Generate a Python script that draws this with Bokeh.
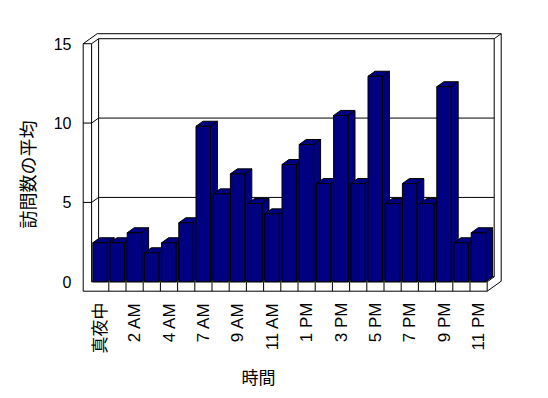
import math
from bokeh.plotting import figure
from bokeh.models import Range1d, LinearAxis, FixedTicker, Title
from bokeh.embed import file_html
from bokeh.resources import INLINE

# ---------------- data ----------------
hours = ["真夜中", "1 AM", "2 AM", "3 AM", "4 AM", "5 AM", "7 AM", "8 AM", "9 AM",
         "10 AM", "11 AM", "12 PM", "1 PM", "2 PM", "3 PM", "4 PM", "5 PM", "6 PM",
         "7 PM", "8 PM", "9 PM", "10 PM", "11 PM"]
visits = [2.46, 2.46, 3.09, 1.83, 2.46, 3.72, 9.80, 5.54, 6.80, 4.93, 4.28, 7.39,
          8.65, 6.19, 10.48, 6.19, 12.95, 4.93, 6.19, 4.93, 12.29, 2.46, 3.09]
y_ticks = [0, 5, 10, 15]
y_grid = [5, 10]
y_max = 15
x_title = "時間"
y_title = "訪問数の平均"

# ---------------- geometry (pixels) ----------------
CAT_PX = 17.2          # px per category
VAL_PX = 15.873        # px per value unit
ORIGIN_X = 92.1        # page px of category 0 left edge
ORIGIN_Y = 282.3       # page px of value 0
DEPTH_PX = (7.0, 5.0)  # 3-D depth offset
WALL_PX = 8.4          # left wall thickness
FLOOR_PX = 9.4         # floor thickness
BAR_OFF_PX = 1.2
BAR_W_PX = 14.4
FRAME = dict(left=81, right=504, top=32, bottom=294)
OFF = 1                # observed page offset of the canvas

def dxu(px):
    return (px - ORIGIN_X) / CAT_PX

def dyu(py):
    return (ORIGIN_Y - py) / VAL_PX

N = len(visits)
dx = DEPTH_PX[0] / CAT_PX
dy = DEPTH_PX[1] / VAL_PX
wall = WALL_PX / CAT_PX
floor = FLOOR_PX / VAL_PX
off = BAR_OFF_PX / CAT_PX
bw = BAR_W_PX / CAT_PX

FONT_L = "'Liberation Sans', 'Noto Sans CJK JP'"
FONT_J = "'Noto Sans CJK JP'"

p = figure(frame_width=FRAME["right"] - FRAME["left"],
           frame_height=FRAME["bottom"] - FRAME["top"],
           output_backend="svg", toolbar_location=None,
           x_range=Range1d(dxu(FRAME["left"]), dxu(FRAME["right"])),
           y_range=Range1d(dyu(FRAME["bottom"]), dyu(FRAME["top"])),
           x_axis_type=None, y_axis_type=None,
           min_border_left=FRAME["left"] - OFF, min_border_top=FRAME["top"] - OFF,
           min_border_right=20, min_border_bottom=20)
p.outline_line_color = None
p.background_fill_color = "white"
p.border_fill_color = "white"

# ---------------- frame (walls + floor) ----------------
ox = [-wall, N, N + 2 * dx, N + 2 * dx, -wall + 2 * dx, -wall]
oy = [-floor, -floor, -floor + 2 * dy, y_max + 2 * dy, y_max + 2 * dy, y_max]
p.patch(ox, oy, fill_color="white", line_color="black", line_width=1)

xs, ys = [], []
def seg(x0, y0, x1, y1):
    xs.append([x0, x1]); ys.append([y0, y1])

seg(-wall, y_max, 0, y_max)
seg(0, 0, 0, y_max)
seg(0, y_max, dx, y_max + dy)
seg(dx, y_max + dy, N + dx, y_max + dy)
seg(N + dx, y_max + dy, N + 2 * dx, y_max + 2 * dy)
seg(N + dx, dy, N + dx, y_max + dy)
seg(dx, dy, dx, y_max + dy)
seg(dx, dy, N + dx, dy)
seg(0, 0, dx, dy)
seg(0, 0, N, 0)
seg(N, 0, N + dx, dy)
seg(N, -floor, N, 0)
for v in y_grid:
    seg(-wall, v, 0, v)
    seg(0, v, dx, v + dy)
    seg(dx, v + dy, N + dx, v + dy)
for i in range(1, N):
    seg(i, -floor, i, 0)
p.multi_line(xs, ys, line_color="black", line_width=1)

# ---------------- 3-D bars ----------------
bx, by = [], []
for i, v in enumerate(visits):
    x0 = i + off
    x1 = x0 + bw
    bx.append([x1, x1 + dx, x1 + dx, x1]); by.append([0, dy, v + dy, v])          # side
    bx.append([x0, x1, x1 + dx, x0 + dx]); by.append([v, v, v + dy, v + dy])      # top
    bx.append([x0, x1, x1, x0]); by.append([0, 0, v, v])                          # front
p.patches(bx, by, fill_color="#000080", line_color="black", line_width=1)

# ---------------- axes ----------------
yaxis = LinearAxis(ticker=FixedTicker(ticks=y_ticks), axis_line_color=None,
                   major_tick_line_color=None, minor_tick_line_color=None,
                   major_tick_in=0, major_tick_out=0, major_label_standoff=9,
                   major_label_text_font=FONT_L, major_label_text_font_size="16px",
                   major_label_text_color="black")
p.add_layout(yaxis, "left")

x_ticks = [i + 0.5 for i in range(0, N, 2)]
xaxis = LinearAxis(ticker=FixedTicker(ticks=x_ticks),
                   major_label_overrides={i + 0.5: hours[i] for i in range(0, N, 2)},
                   major_label_orientation=math.pi / 2,
                   axis_line_color=None, major_tick_line_color=None,
                   minor_tick_line_color=None, major_tick_in=0, major_tick_out=0,
                   major_label_standoff=9, major_label_text_font=FONT_L,
                   major_label_text_font_size="17px", major_label_text_color="black")
p.add_layout(xaxis, "below")

p.add_layout(Title(text=x_title, align="left", offset=161, text_font=FONT_J,
                   text_font_size="17px", text_font_style="normal",
                   text_color="black", standoff=10), "below")
p.add_layout(Title(text=y_title, align="left", offset=65, text_font=FONT_J,
                   text_font_size="18px", text_font_style="normal",
                   text_color="black", standoff=22), "left")

open("out.html", "w").write(file_html(p, INLINE))
